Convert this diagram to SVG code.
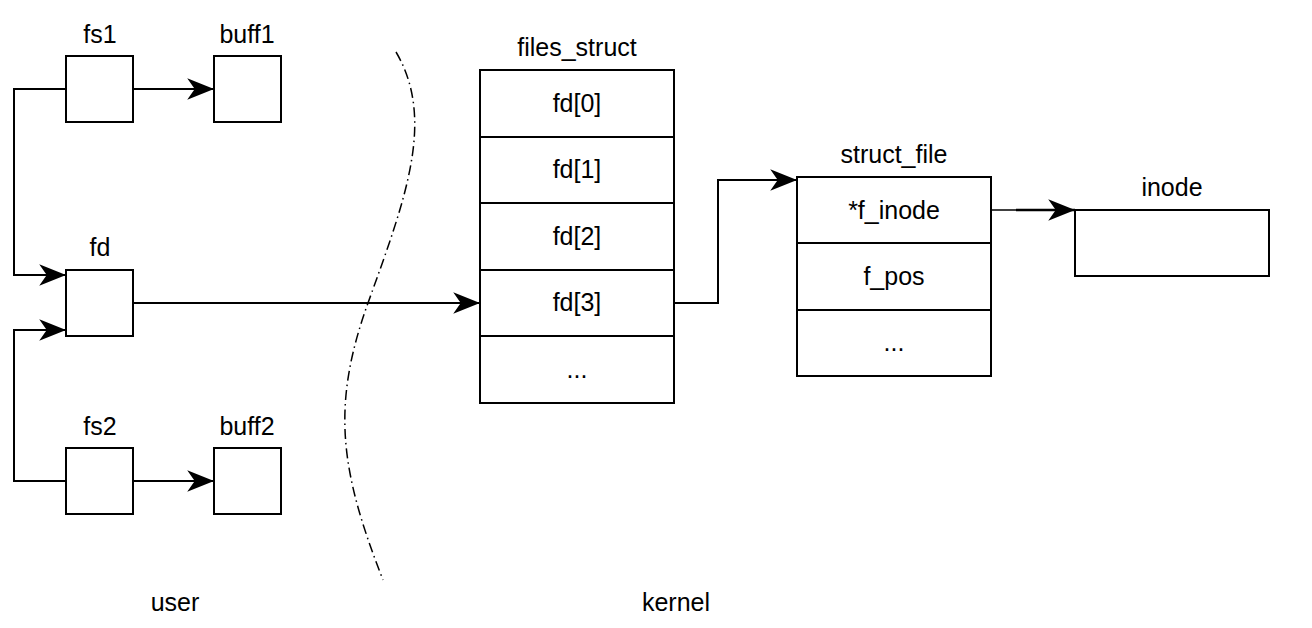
<svg xmlns="http://www.w3.org/2000/svg" width="1312" height="628" viewBox="0 0 1312 628">
<style>
.box{fill:#fff;stroke:#000;stroke-width:2}
.t{font-family:"Liberation Sans",Arial,sans-serif;font-size:25px;fill:#000;text-anchor:middle}
.c{fill:none;stroke:#000;stroke-width:2}
</style>
<defs>
<marker id="arr" markerUnits="userSpaceOnUse" markerWidth="30" markerHeight="24" viewBox="-1 -11 28 22" refX="25" refY="0" orient="auto">
<path d="M0,-10 L25,0 L0,10 L7,0 Z" fill="#000"/>
</marker>
</defs>
<rect width="1312" height="628" fill="#fff"/>
<g id="fs1"><rect class="box" x="66" y="56" width="67" height="66"/><text class="t" x="100" y="43">fs1</text></g>
<g id="buff1"><rect class="box" x="214" y="56" width="67" height="66"/><text class="t" x="247" y="43">buff1</text></g>
<g id="fd"><rect class="box" x="66" y="270" width="67" height="66"/><text class="t" x="100" y="256">fd</text></g>
<g id="fs2"><rect class="box" x="66" y="448" width="67" height="66"/><text class="t" x="100" y="435">fs2</text></g>
<g id="buff2"><rect class="box" x="214" y="448" width="67" height="66"/><text class="t" x="247" y="435">buff2</text></g>
<g id="files_struct">
<text class="t" x="577" y="56">files_struct</text>
<rect class="box" x="480" y="70" width="194" height="333"/>
<line class="c" x1="480" y1="137" x2="674" y2="137"/>
<line class="c" x1="480" y1="203" x2="674" y2="203"/>
<line class="c" x1="480" y1="270" x2="674" y2="270"/>
<line class="c" x1="480" y1="336" x2="674" y2="336"/>
<text class="t" x="577" y="112">fd[0]</text>
<text class="t" x="577" y="178">fd[1]</text>
<text class="t" x="577" y="245">fd[2]</text>
<text class="t" x="577" y="311">fd[3]</text>
<text class="t" x="577" y="378">...</text>
</g>
<g id="struct_file">
<text class="t" x="894" y="163">struct_file</text>
<rect class="box" x="797" y="177" width="194" height="199"/>
<line class="c" x1="797" y1="243" x2="991" y2="243"/>
<line class="c" x1="797" y1="310" x2="991" y2="310"/>
<text class="t" x="894" y="219">*f_inode</text>
<text class="t" x="894" y="285">f_pos</text>
<text class="t" x="894" y="351">...</text>
</g>
<g id="inode"><text class="t" x="1172" y="196">inode</text><rect class="box" x="1075" y="210" width="194" height="66"/></g>
<g id="labels">
<text class="t" x="175" y="611">user</text>
<text class="t" x="676" y="611">kernel</text>
</g>
<g id="boundary">
<path d="M396,52 C436,120 405,200 368,303 S340,470 383,580" fill="none" stroke="#000" stroke-width="1.5" stroke-dasharray="10 4 1.5 4"/>
</g>
<g id="connectors">
<path class="c" d="M133,89 L214,89" marker-end="url(#arr)"/>
<path class="c" d="M133,481 L214,481" marker-end="url(#arr)"/>
<path class="c" d="M66,89 L14,89 L14,275 L66,275" marker-end="url(#arr)"/>
<path class="c" d="M66,481 L14,481 L14,330 L66,330" marker-end="url(#arr)"/>
<path class="c" d="M133,303 L480,303" marker-end="url(#arr)"/>
<path class="c" d="M674,303 L718,303 L718,180 L797,180" marker-end="url(#arr)"/>
<path d="M991,210 L1016,210" fill="none" stroke="#000" stroke-width="1.5"/>
<path d="M1016,210 L1075,210" fill="none" stroke="#000" stroke-width="2.5" marker-end="url(#arr)"/>
</g>
</svg>
